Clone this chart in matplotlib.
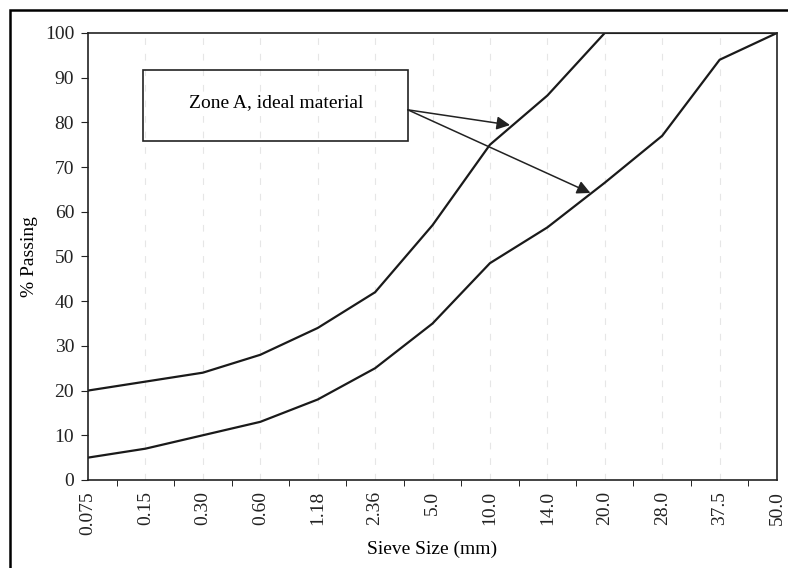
import numpy as np
import matplotlib.pyplot as plt
from matplotlib.patches import Rectangle

# Sieve sizes (categorical, evenly spaced) and grading envelope
sieve_labels = ["0.075", "0.15", "0.30", "0.60", "1.18", "2.36", "5.0",
                "10.0", "14.0", "20.0", "28.0", "37.5", "50.0"]
upper_limit = [20, 22, 24, 28, 34, 42, 57, 75, 86, 100, 100, 100, 100]
lower_limit = [5, 7, 10, 13, 18, 25, 35, 48.5, 56.5, 66.5, 77, 94, 100]

plt.rcParams["font.family"] = ["Liberation Serif", "DejaVu Serif"]

fig = plt.figure(figsize=(7.88, 5.68), dpi=100)
ax = fig.add_axes([0.1117, 0.155, 0.8744, 0.787])

# outer frame round the whole picture
fig.patches.append(Rectangle((0.0127, -0.05), 1.1, 1.032, transform=fig.transFigure,
                             fill=False, edgecolor="black", linewidth=1.8))

x = np.arange(len(sieve_labels))
ax.plot(x, upper_limit, color="#1a1a1a", linewidth=1.6)
ax.plot(x, lower_limit, color="#1a1a1a", linewidth=1.6)

# faint dashed verticals at each sieve
for xi in x[1:-1]:
    ax.axvline(xi, color="#e6e6e6", linewidth=0.8, linestyle=(0, (6, 8)), zorder=0)

ax.set_xlim(0, len(sieve_labels) - 1)
ax.set_ylim(0, 100)
ax.set_yticks(np.arange(0, 101, 10))
ax.set_xticks(x)
ax.set_xticklabels(sieve_labels, rotation=90)
ax.set_xticks(x[:-1] + 0.5, minor=True)
ax.tick_params(axis="x", which="major", length=0, pad=8, labelsize=14)
ax.tick_params(axis="x", which="minor", length=4, direction="out")
ax.tick_params(axis="y", length=5, direction="out", labelsize=14, pad=5)
ax.tick_params(colors="#222222")
for s in ax.spines.values():
    s.set_linewidth(1.2)
    s.set_color("#222222")

ax.set_ylabel("% Passing", fontsize=14, labelpad=5)
ax.set_xlabel("Sieve Size (mm)", fontsize=14, labelpad=4)

# annotation box with arrows
ax.add_patch(Rectangle((0.96, 75.8), 4.61, 15.9, fill=False, edgecolor="#222222",
                       linewidth=1.2))
ax.text(3.27, 84.5, "Zone A, ideal material", ha="center", va="center", fontsize=14)
for tx, ty in [(7.35, 79.4), (8.75, 64.2)]:
    ax.annotate("", xy=(tx, ty), xytext=(5.57, 82.8),
                arrowprops=dict(arrowstyle="-|>", color="#222222", lw=1.1,
                                mutation_scale=20, shrinkA=0, shrinkB=0))

fig.savefig("out.png", dpi=100)
